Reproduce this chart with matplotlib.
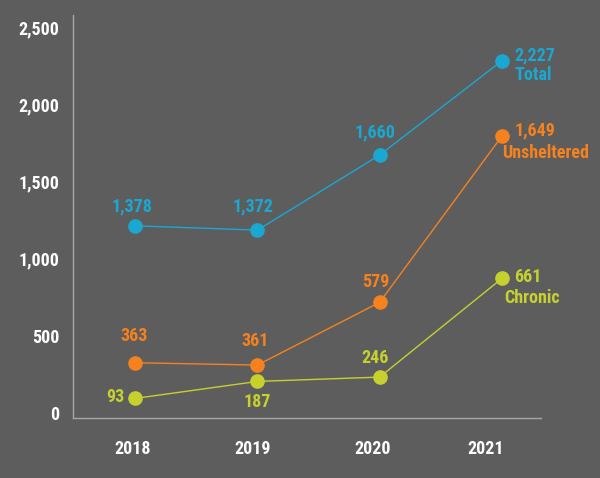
import matplotlib
matplotlib.use("Agg")
import matplotlib.pyplot as plt
from matplotlib import font_manager

# data (plotted positions, labels as printed)
years = ["2018", "2019", "2020", "2021"]
total = [1213, 1185, 1671, 2282]
unsheltered = [326, 311, 717, 1794]
chronic = [95, 205, 233, 872]
total_labels = ["1,378", "1,372", "1,660", "2,227"]
unsheltered_labels = ["363", "361", "579", "1,649"]
chronic_labels = ["93", "187", "246", "661"]
yticks = [0, 500, 1000, 1500, 2000, 2500]

BG = "#5d5d5d"
BLUE = "#1aa8d2"
ORANGE = "#f5821f"
GREEN = "#c6d12e"

names = {f.name for f in font_manager.fontManager.ttflist}
if "Roboto Condensed" in names:
    plt.rcParams["font.family"] = ["Roboto Condensed", "DejaVu Sans"]
else:
    plt.rcParams["font.family"] = ["DejaVu Sans"]
    plt.rcParams["font.stretch"] = "condensed"
plt.rcParams["font.weight"] = "bold"

fig = plt.figure(figsize=(6, 4.78), dpi=100, facecolor=BG)
ax = fig.add_axes([0.1217, 0.1255, 0.78, 0.843])
ax.set_facecolor(BG)

x = list(range(len(years)))
for vals, col in [(total, BLUE), (unsheltered, ORANGE), (chronic, GREEN)]:
    ax.plot(x, vals, color=col, lw=1.0, marker="o", ms=9.5, mec=col, zorder=3)

ax.set_xlim(-0.508, 3.32)
ax.set_ylim(-32, 2578)

for s in ["top", "right"]:
    ax.spines[s].set_visible(False)
for s in ["left", "bottom"]:
    ax.spines[s].set_color("#a8a8a8")
    ax.spines[s].set_linewidth(1)

ax.set_yticks(yticks)
ax.set_yticklabels([f"{v:,}" for v in yticks])
ax.set_xticks([-0.02, 0.965, 1.94, 2.87])
ax.set_xticklabels(years)
ax.tick_params(axis="both", length=0, colors="white", labelsize=13)
ax.tick_params(axis="y", pad=10)
ax.tick_params(axis="x", pad=16)

fs = 13


def lab(i, vals, text, col, dx, dy, ha="center"):
    ax.annotate(text, (i, vals[i]), xytext=(dx, dy), textcoords="offset points",
                ha=ha, va="center", color=col, fontsize=fs, fontweight="bold")


# Total
lab(0, total, total_labels[0], BLUE, -2, 14)
lab(1, total, total_labels[1], BLUE, -3, 17)
lab(2, total, total_labels[2], BLUE, -3, 16)
lab(3, total, total_labels[3], BLUE, 9, 4, "left")
lab(3, total, "Total", BLUE, 9, -10, "left")
# Unsheltered
lab(0, unsheltered, unsheltered_labels[0], ORANGE, -1, 19)
lab(1, unsheltered, unsheltered_labels[1], ORANGE, -2, 17)
lab(2, unsheltered, unsheltered_labels[2], ORANGE, -3, 15)
lab(3, unsheltered, unsheltered_labels[3], ORANGE, 9, 4, "left")
lab(3, unsheltered, "Unsheltered", ORANGE, 0, -12, "left")
# Chronic
lab(0, chronic, chronic_labels[0], GREEN, -8, 1, "right")
lab(1, chronic, chronic_labels[1], GREEN, 0, -15)
lab(2, chronic, chronic_labels[2], GREEN, -3, 14)
lab(3, chronic, chronic_labels[3], GREEN, 9, 1, "left")
lab(3, chronic, "Chronic", GREEN, 2, -14, "left")

fig.savefig("out.png", dpi=100, facecolor=BG)
